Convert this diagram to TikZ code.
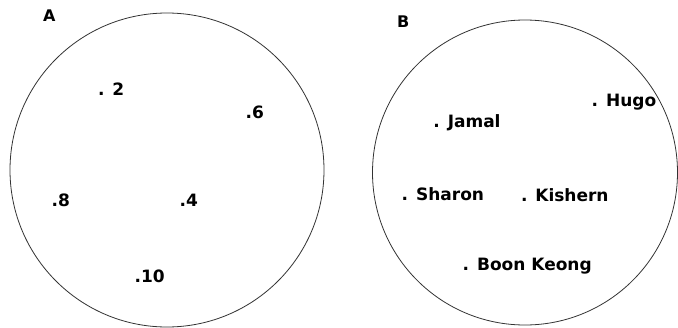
\documentclass[tikz,border=0pt]{standalone}
\usepackage{fontspec}
\setmainfont{DejaVu Sans}
\begin{document}
\begin{tikzpicture}[x=1pt,y=-1pt,
  setcircle/.style={draw=black!80, line width=0.8pt, circle, inner sep=0pt},
  lbl/.style={anchor=base west, inner sep=0pt, font=\fontsize{17}{20}\selectfont\bfseries},
  ttl/.style={anchor=base west, inner sep=0pt, font=\fontsize{16}{19}\selectfont\bfseries}]
\useasboundingbox (0,0) rectangle (678,327);
\node[setcircle, minimum size=314pt] (setA) at (167,170) {};
\node[setcircle, minimum size=305pt] (setB) at (525,172.5) {};
\node[ttl] (labA) at (43,21) {A};
\node[ttl] (labB) at (397,27) {B};
% set A
\node[lbl] (a2) at (97.8,95.7) {. 2};
\node[lbl] (a6) at (245.5,118) {.6};
\node[lbl] (a8) at (51.5,206) {.8};
\node[lbl] (a4) at (179.5,206.7) {.4};
\node[lbl] (a10) at (134.5,282.7) {.10};
% set B
\node[lbl] (hugo) at (591.5,106) {. Hugo};
\node[lbl] (jamal) at (433.2,127.7) {. Jamal};
\node[lbl] (sharon) at (401.5,200.7) {. Sharon};
\node[lbl] (kishern) at (520.8,201.7) {. Kishern};
\node[lbl] (boon) at (462.5,270) {. Boon Keong};
\end{tikzpicture}
\end{document}
